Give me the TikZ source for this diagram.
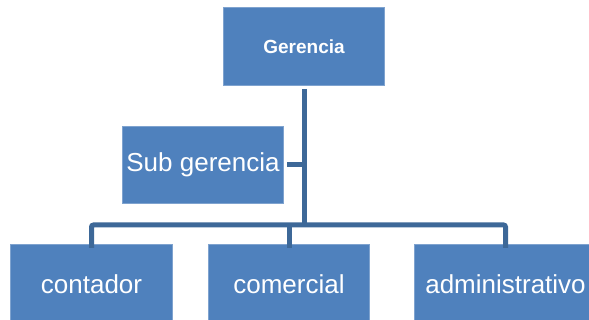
\documentclass[tikz,border=0pt]{standalone}
\usepackage{fontspec}
\setmainfont{Liberation Sans}
\begin{document}
\begin{tikzpicture}[x=1pt,y=-1pt,
  box/.style={draw=boxedge,line width=1pt,fill=boxfill,text=white,inner sep=0pt,anchor=north west},
  link/.style={draw=linkblue,line width=5pt}]
\definecolor{boxfill}{HTML}{4F81BD}
\definecolor{boxedge}{HTML}{7FA3CF}
\definecolor{linkblue}{HTML}{3D6898}
\useasboundingbox (0,0) rectangle (589,320);
\clip (0,0) rectangle (589,320);
\node[box,minimum width=161pt,minimum height=78pt,font=\fontsize{19}{22}\selectfont\bfseries] (ger) at (223,7) {Gerencia};
\node[box,minimum width=161pt,minimum height=77pt,font=\fontsize{26}{30}\selectfont] (sub) at (122,126) {Sub gerencia};
\node[box,minimum width=162pt,minimum height=80pt,font=\fontsize{26}{30}\selectfont] (con) at (10,244) {contador};
\node[box,minimum width=161pt,minimum height=80pt,font=\fontsize{26}{30}\selectfont] (com) at (208,244) {comercial};
\node[box,minimum width=182pt,minimum height=80pt,font=\fontsize{26}{30}\selectfont] (adm) at (414,244) {administrativo};
\coordinate (top) at ([yshift=-3pt]ger.south);
\coordinate (bus) at (top |- 0,225);
\draw[link] (top) -- (bus);
\draw[link] ([xshift=3pt]sub.east) -- (sub.east -| top);
\draw[link,rounded corners=2pt] ([yshift=-4pt]con.north) |- (bus) -| ([yshift=-4pt]adm.north);
\draw[link] ([yshift=-4pt]com.north) -- (com.north |- bus);
\end{tikzpicture}
\end{document}
